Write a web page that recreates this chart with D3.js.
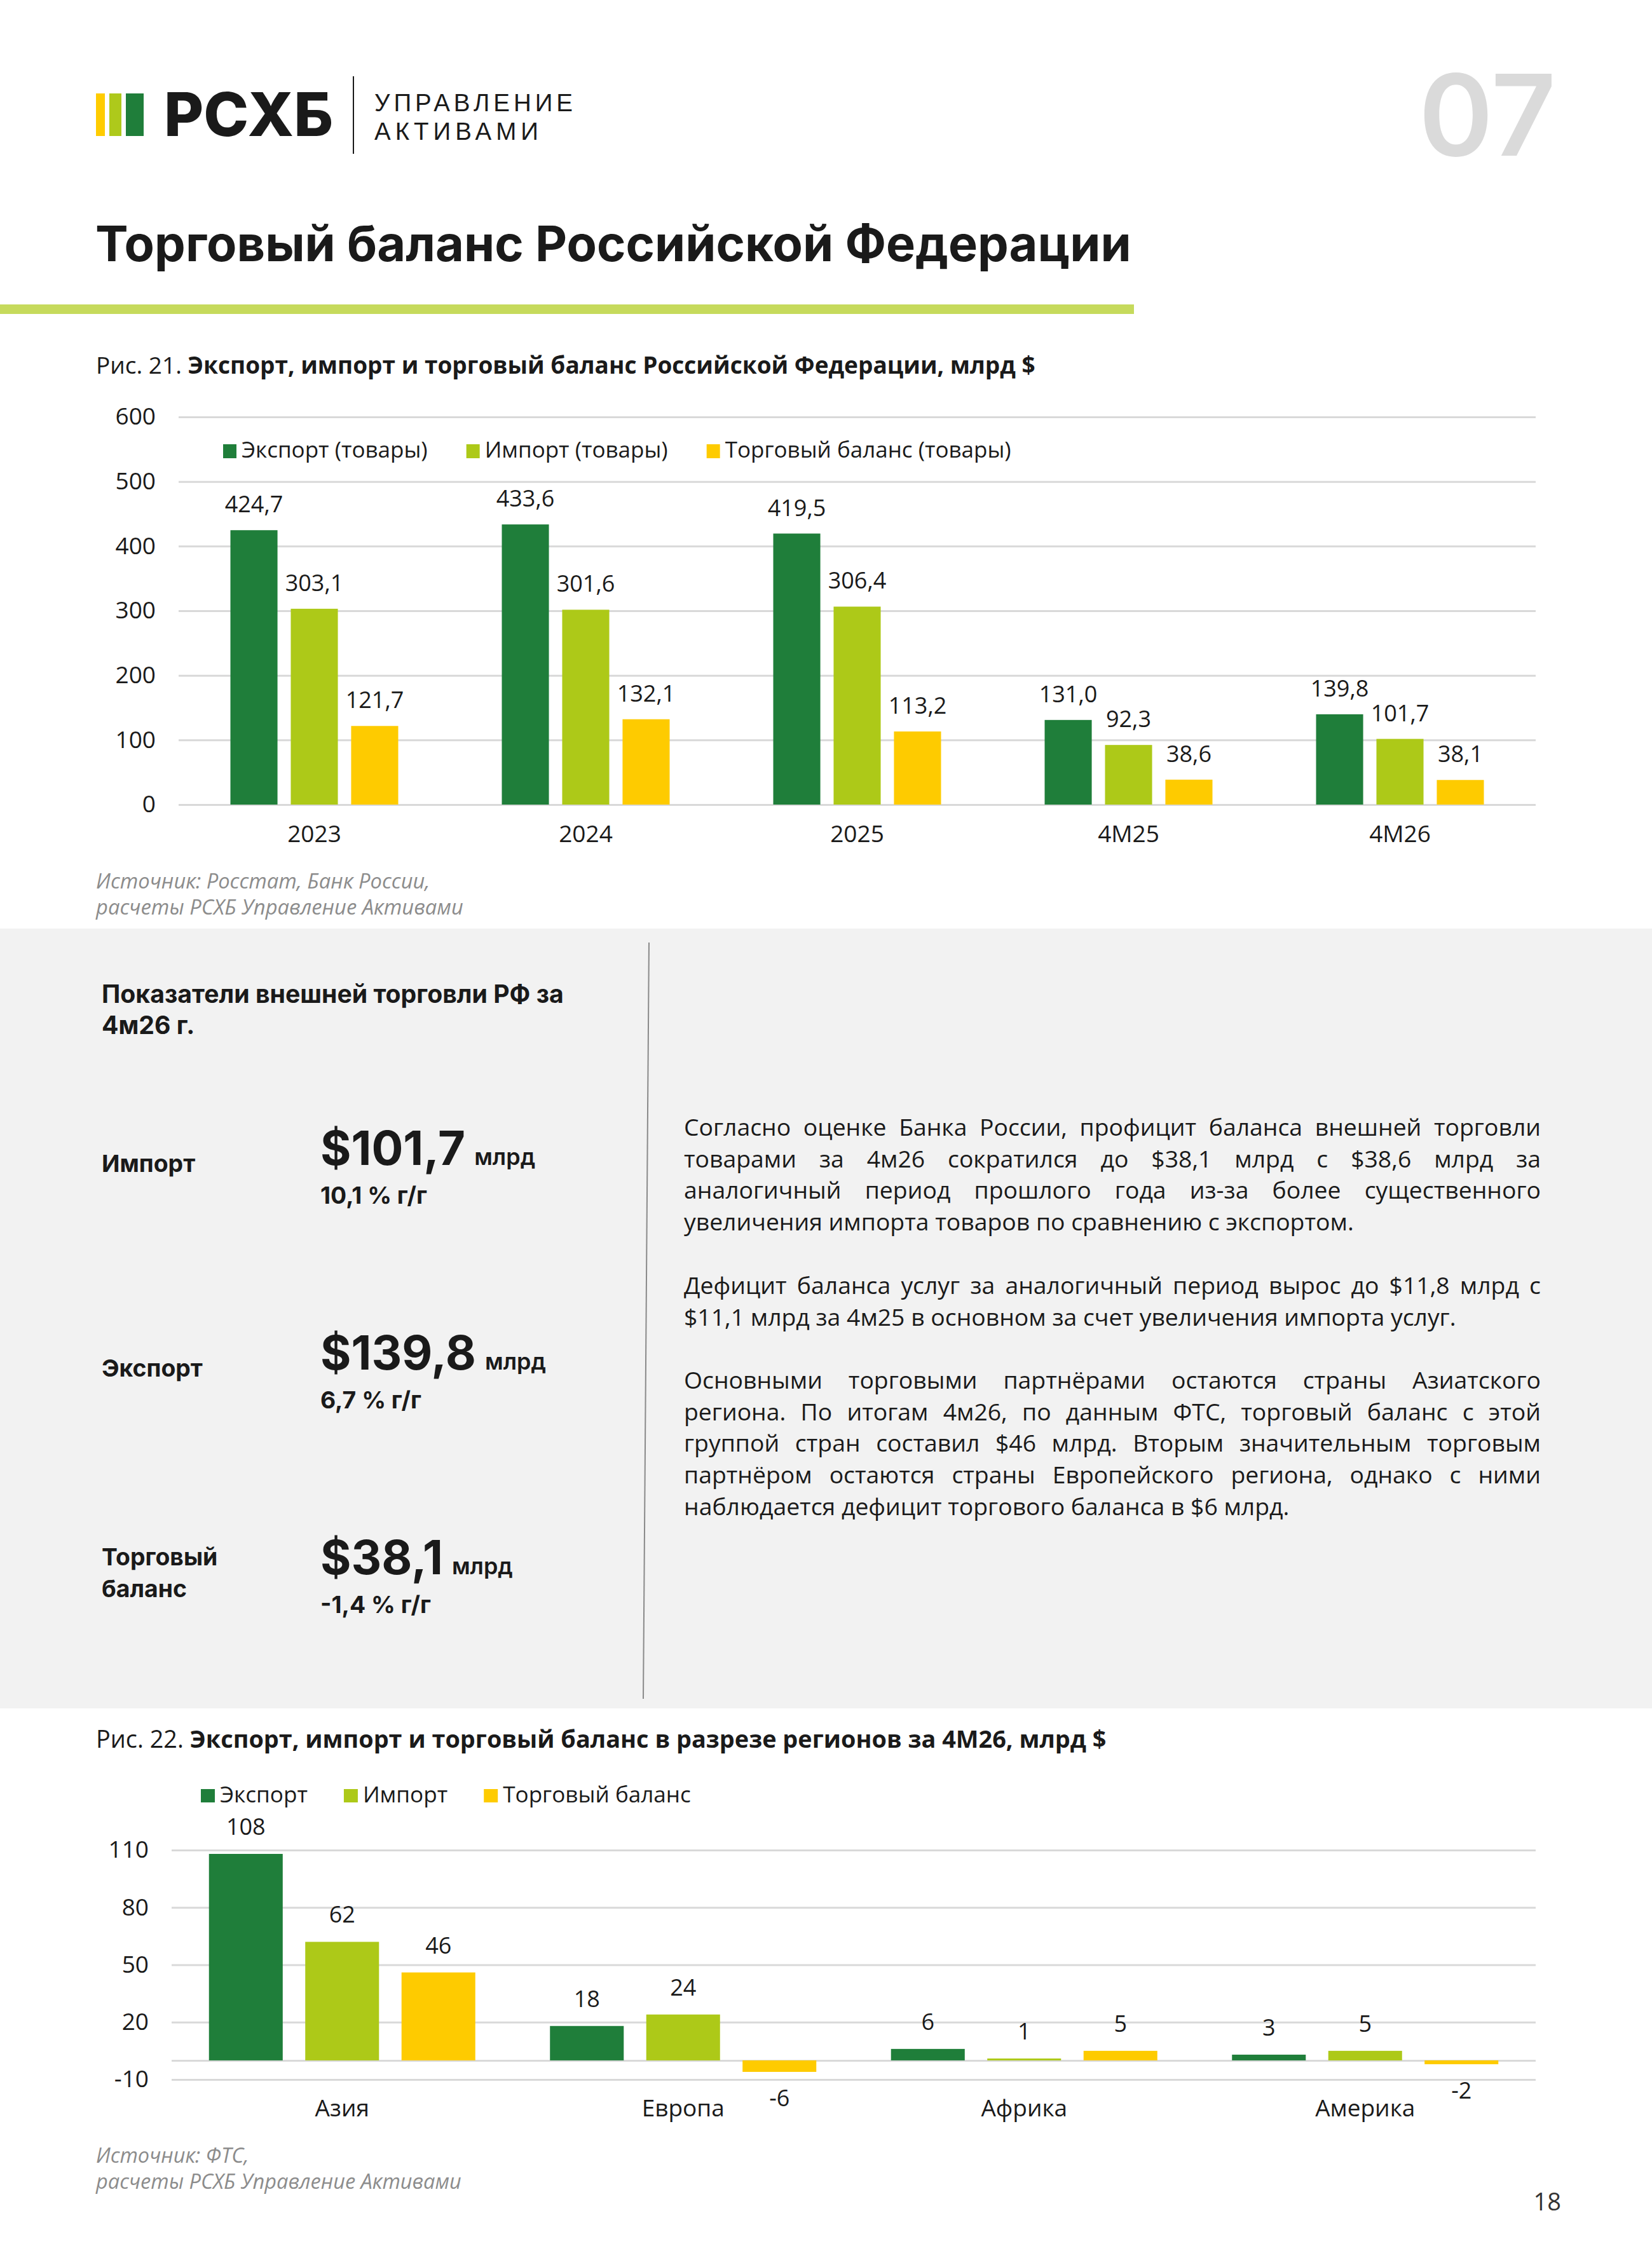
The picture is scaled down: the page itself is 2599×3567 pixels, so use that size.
<!DOCTYPE html>
<html><head><meta charset="utf-8">
<script src="https://cdn.jsdelivr.net/npm/d3@7"></script>
<style>
html,body{margin:0;padding:0;background:#fff;}
svg{display:block;}
</style></head><body>
<svg id="page" width="2599" height="3567"></svg>
<script>
// ---------- DATA ----------
const categories1 = ["2023", "2024", "2025", "4M25", "4M26"];
const series1 = ["Экспорт (товары)", "Импорт (товары)", "Торговый баланс (товары)"];
const export1 = [424.7, 433.6, 419.5, 131.0, 139.8];
const import1 = [303.1, 301.6, 306.4, 92.3, 101.7];
const balance1 = [121.7, 132.1, 113.2, 38.6, 38.1];
const ticks1 = [0, 100, 200, 300, 400, 500, 600];

const categories2 = ["Азия", "Европа", "Африка", "Америка"];
const series2 = ["Экспорт", "Импорт", "Торговый баланс"];
const export2 = [108, 18, 6, 3];
const import2 = [62, 24, 1, 5];
const balance2 = [46, -6, 5, -2];
const ticks2 = [-10, 20, 50, 80, 110];
const grid2 = [-10, 0, 20, 50, 80, 110];

const indicatorLabels = [["Импорт"], ["Экспорт"], ["Торговый", "баланс"]];
const indicatorValues = [import1[4], export1[4], balance1[4]];
const indicatorChanges = [10.1, 6.7, -1.4];

const paragraphs = [
  ["Согласно оценке Банка России, профицит баланса внешней торговли",
   "товарами за 4м26 сократился до $38,1 млрд с $38,6 млрд за",
   "аналогичный период прошлого года из-за более существенного",
   "увеличения импорта товаров по сравнению с экспортом."],
  ["Дефицит баланса услуг за аналогичный период вырос до $11,8 млрд с",
   "$11,1 млрд за 4м25 в основном за счет увеличения импорта услуг."],
  ["Основными торговыми партнёрами остаются страны Азиатского",
   "региона. По итогам 4м26, по данным ФТС, торговый баланс с этой",
   "группой стран составил $46 млрд. Вторым значительным торговым",
   "партнёром остаются страны Европейского региона, однако с ними",
   "наблюдается дефицит торгового баланса в $6 млрд."]
];

// ---------- SETUP ----------
const W = 2599, H = 3567;
const svg = d3.select("#page");
svg.append("rect").attr("width", W).attr("height", H).attr("fill", "#fff");

const FONT = "'Open Sans', 'Noto Sans', sans-serif";
const HEAD = "Inter, 'Noto Sans', sans-serif";
const INK = "#1a1a1a";
const COLORS = ["#1f7e3a", "#adc918", "#fecb00"];
const GRID = "#d9d9d9";
const AX = 37, VAL = 36;

const loc = d3.formatLocale({decimal: ",", thousands: " ", grouping: [3], currency: ["$", ""], minus: "-"});
const f1 = loc.format(".1f"), f0 = loc.format("d");

function txt(parent, x, y, s, o = {}) {
  const t = parent.append("text").attr("x", x).attr("y", y).text(s)
    .attr("font-family", o.family || FONT).attr("font-size", o.size || 33)
    .attr("font-weight", o.weight || 400).attr("fill", o.fill || INK);
  if (o.anchor) t.attr("text-anchor", o.anchor);
  if (o.italic) t.attr("font-style", "italic");
  return t;
}
const tw = sel => sel.node().getComputedTextLength();
function measure(s, o) { const t = txt(svg, 0, 0, s, o); const w = tw(t); t.remove(); return w; }
function fitTo(sel, w) { const fs = +sel.attr("font-size"); sel.attr("font-size", fs * w / tw(sel)); return sel; }

// ---------- HEADER ----------
const logo = svg.append("g");
[[151, 14, "#ffcc00"], [172, 19, "#aec91b"], [198, 28, "#1f7e3a"]].forEach(([x, w, c]) =>
  logo.append("rect").attr("x", x).attr("y", 147).attr("width", w).attr("height", 67).attr("fill", c));
fitTo(txt(logo, 258, 214, "РСХБ", {family: HEAD, weight: 800, size: 90}), 266);
logo.append("line").attr("x1", 556).attr("x2", 556).attr("y1", 120).attr("y2", 242).attr("stroke", INK).attr("stroke-width", 2);
const SUBF = "'Liberation Sans', Arial, sans-serif";
txt(logo, 589, 175, "УПРАВЛЕНИЕ", {family: SUBF, size: 38.5}).attr("textLength", 312).attr("lengthAdjust", "spacing");
txt(logo, 589, 220, "АКТИВАМИ", {family: SUBF, size: 38.5}).attr("textLength", 258).attr("lengthAdjust", "spacing");
fitTo(txt(svg, 2232, 245, "07", {family: HEAD, weight: 600, size: 180, fill: "#dadada"}), 216);

fitTo(txt(svg, 150, 411, "Торговый баланс Российской Федерации", {family: HEAD, weight: 700, size: 75}), 1630);
svg.append("rect").attr("x", 0).attr("y", 479).attr("width", 1784).attr("height", 15).attr("fill", "#c6da5c");

// ---------- helpers for charts ----------
function figTitle(y, num, rest, w) {
  const t = svg.append("text").attr("x", 151).attr("y", y).attr("font-family", FONT).attr("font-size", 35).attr("fill", INK);
  t.append("tspan").attr("font-weight", 400).text(num + " ");
  t.append("tspan").attr("font-weight", 700).text(rest);
  fitTo(t, w);
}
function legend(x0, yBase, sqY, sqW, sqH, names, totalW, textGap, itemGap) {
  const g = svg.append("g");
  const sum = d3.sum(names, n => measure(n, {size: 32}));
  const fs = 32 * totalW / sum;
  let x = x0;
  names.forEach((n, i) => {
    g.append("rect").attr("x", x).attr("y", sqY).attr("width", sqW).attr("height", sqH).attr("fill", COLORS[i]);
    const t = txt(g, x + textGap, yBase, n, {size: fs});
    x = x + textGap + tw(t) + itemGap;
  });
}
function source(y1, lines, w2) {
  const fs = 30 * w2 / measure(lines[1], {italic: true, size: 30});
  txt(svg, 151, y1, lines[0], {italic: true, size: fs, fill: "#8c8c8c"});
  txt(svg, 151, y1 + 41, lines[1], {italic: true, size: fs, fill: "#8c8c8c"});
}
function styleAxisText(g, size) {
  g.selectAll("text").attr("font-size", size).attr("font-family", FONT).attr("fill", INK);
}

// ---------- CHART 1 ----------
figTitle(588, "Рис. 21.", "Экспорт, импорт и торговый баланс Российской Федерации, млрд $", 1478);
const C1 = {left: 281, right: 2416, top: 656, bottom: 1266};
const x1 = d3.scaleBand().domain(categories1).range([C1.left, C1.right]);
const xs1 = d3.scaleBand().domain(series1).range([-132, 132]).paddingInner(0.22);
const y1 = d3.scaleLinear().domain([0, 600]).range([C1.bottom, C1.top]);

svg.append("g").attr("transform", `translate(${C1.left},0)`)
  .call(d3.axisLeft(y1).tickValues(ticks1).tickSize(-(C1.right - C1.left)).tickPadding(36).tickFormat(f0))
  .call(g => g.select(".domain").remove())
  .call(g => g.selectAll(".tick line").attr("stroke", GRID).attr("stroke-width", 3))
  .call(g => styleAxisText(g, AX));

svg.append("g").attr("transform", `translate(0,${C1.bottom})`)
  .call(d3.axisBottom(x1).tickSize(0).tickPadding(33))
  .call(g => g.select(".domain").remove())
  .call(g => styleAxisText(g, AX));

[export1, import1, balance1].forEach((vals, si) => {
  const g = svg.append("g");
  const cx = c => x1(c) + x1.bandwidth() / 2 + xs1(series1[si]);
  g.selectAll("rect").data(categories1).join("rect")
    .attr("x", c => cx(c)).attr("width", xs1.bandwidth())
    .attr("y", (c, i) => y1(vals[i])).attr("height", (c, i) => y1(0) - y1(vals[i]))
    .attr("fill", COLORS[si]);
  g.selectAll("text").data(categories1).join("text")
    .attr("x", c => cx(c) + xs1.bandwidth() / 2).attr("y", (c, i) => y1(vals[i]) - 28)
    .attr("text-anchor", "middle").attr("font-family", FONT).attr("font-size", VAL).attr("fill", INK)
    .text((c, i) => f1(vals[i]));
});
legend(351, 720, 699, 21, 22, series1, 1031, 29, 61);
source(1398, ["Источник: Росстат, Банк России,", "расчеты РСХБ Управление Активами"], 578);

// ---------- PANEL ----------
svg.append("rect").attr("x", 0).attr("y", 1461).attr("width", W).attr("height", 1227).attr("fill", "#f2f2f2");
svg.append("line").attr("x1", 1021).attr("y1", 1483).attr("x2", 1012).attr("y2", 2673).attr("stroke", "#8a8a8a").attr("stroke-width", 2);

const h1 = fitTo(txt(svg, 160, 1578, "Показатели внешней торговли РФ за", {family: HEAD, weight: 700, size: 38}), 727);
txt(svg, 160, 1627, "4м26 г.", {family: HEAD, weight: 700, size: +h1.attr("font-size")});

const rowBase = [1833, 2155, 2477];
const lblSize = 36 * 159 / measure("Экспорт", {family: HEAD, weight: 700, size: 36});
const valSize = 80 * 245 / measure("$" + f1(export1[4]), {family: HEAD, weight: 700, size: 80});
const unitSize = 40 * 96 / measure("млрд", {family: HEAD, weight: 600, size: 40});
const chgSize = 36 * 168 / measure(f1(indicatorChanges[0]) + " % г/г", {family: HEAD, weight: 700, size: 36});

indicatorLabels.forEach((lines, i) => {
  const b = rowBase[i];
  if (lines.length === 1) {
    txt(svg, 160, b + 11, lines[0], {family: HEAD, weight: 700, size: lblSize});
  } else {
    txt(svg, 160, b - 14, lines[0], {family: HEAD, weight: 700, size: lblSize});
    txt(svg, 160, b + 36, lines[1], {family: HEAD, weight: 700, size: lblSize});
  }
  const v = txt(svg, 504, b, "$" + f1(indicatorValues[i]), {family: HEAD, weight: 700, size: valSize});
  txt(svg, 504 + tw(v) + 14, b, "млрд", {family: HEAD, weight: 600, size: unitSize});
  txt(svg, 504, b + 61, f1(indicatorChanges[i]) + " % г/г", {family: HEAD, weight: 700, size: chgSize});
});

// body text (justified)
const bodyX = 1076, bodyW = 1348, lineH = 49.7;
const paraBase = [1787, 2036, 2185];
const bodySize = 33 * 1054 / measure(paragraphs[0][3], {size: 33});
const spaceW = measure("a a", {size: bodySize}) - measure("aa", {size: bodySize});
paragraphs.forEach((lines, pi) => {
  lines.forEach((line, li) => {
    const y = paraBase[pi] + li * lineH;
    const t = svg.append("text").attr("y", y).attr("font-family", FONT).attr("font-size", bodySize).attr("fill", INK);
    const words = line.split(" ");
    const spans = words.map(w => t.append("tspan").attr("x", 0).text(w));
    const widths = spans.map(s => s.node().getComputedTextLength());
    const last = li === lines.length - 1;
    const gap = last ? spaceW : (bodyW - d3.sum(widths)) / (words.length - 1);
    let x = bodyX;
    spans.forEach((s, k) => { s.attr("x", x); x += widths[k] + gap; });
  });
});

// ---------- CHART 2 ----------
figTitle(2750, "Рис. 22.", "Экспорт, импорт и торговый баланс в разрезе регионов за 4М26, млрд $", 1590);
const C2 = {left: 270, right: 2416};
const x2 = d3.scaleBand().domain(categories2).range([C2.left, C2.right]);
const xs2 = d3.scaleBand().domain(series2).range([-209.5, 209.5]).paddingInner(0.234);
const y2 = d3.scaleLinear().domain([-10, 110]).range([3272, 2911]);

svg.append("g").attr("transform", `translate(${C2.left},0)`)
  .call(d3.axisLeft(y2).tickValues(grid2).tickSize(-(C2.right - C2.left)).tickPadding(36)
    .tickFormat(d => ticks2.includes(d) ? f0(d) : ""))
  .call(g => g.select(".domain").remove())
  .call(g => g.selectAll(".tick line").attr("stroke", GRID).attr("stroke-width", 3))
  .call(g => styleAxisText(g, AX));

svg.append("g").attr("transform", `translate(0,${y2(-10)})`)
  .call(d3.axisBottom(x2).tickSize(0).tickPadding(32))
  .call(g => g.select(".domain").remove())
  .call(g => styleAxisText(g, AX));

[export2, import2, balance2].forEach((vals, si) => {
  const g = svg.append("g");
  const cx = c => x2(c) + x2.bandwidth() / 2 + xs2(series2[si]);
  g.selectAll("rect").data(categories2).join("rect")
    .attr("x", c => cx(c)).attr("width", xs2.bandwidth())
    .attr("y", (c, i) => y2(Math.max(0, vals[i])))
    .attr("height", (c, i) => Math.abs(y2(vals[i]) - y2(0)))
    .attr("fill", COLORS[si]);
  g.selectAll("text").data(categories2).join("text")
    .attr("x", c => cx(c) + xs2.bandwidth() / 2)
    .attr("y", (c, i) => vals[i] >= 0 ? y2(vals[i]) - 30 : y2(vals[i]) + 54)
    .attr("text-anchor", "middle").attr("font-family", FONT).attr("font-size", VAL).attr("fill", INK)
    .text((c, i) => f0(vals[i]));
});
legend(316, 2836, 2815, 22, 21, series2, 567, 30, 57);
source(3403, ["Источник: ФТС,", "расчеты РСХБ Управление Активами"], 575);

txt(svg, 2456, 3478, "18", {size: 38, anchor: "end", fill: "#333"});
</script>
</body></html>
